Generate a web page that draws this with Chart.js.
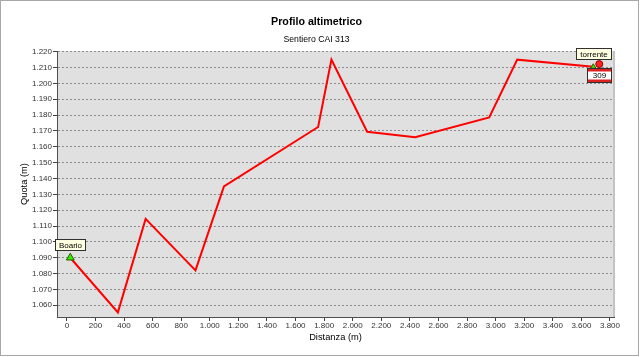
<!DOCTYPE html>
<html>
<head>
<meta charset="utf-8">
<title>Profilo altimetrico</title>
<script src="https://cdn.jsdelivr.net/npm/chart.js@4.4.0/dist/chart.umd.min.js"></script>
<style>
  html, body { margin: 0; padding: 0; background: #fff; }
  canvas { display: block; }
</style>
</head>
<body>
<canvas id="profile_chart" width="640" height="357"></canvas>
<script>
// Track profile (distance in m, altitude in m)
const distanza = [24, 357, 551, 900, 1099, 1758, 1851, 2101, 2437, 2955, 3151, 3683];
const quota = [1090, 1055.5, 1114.5, 1082, 1135, 1172.5, 1215, 1169.5, 1166, 1178.5, 1215, 1210.5];

// Axis ticks and ranges
const x_ticks = [0, 200, 400, 600, 800, 1000, 1200, 1400, 1600, 1800, 2000,
                 2200, 2400, 2600, 2800, 3000, 3200, 3400, 3600, 3800];
const y_ticks = [1060, 1070, 1080, 1090, 1100, 1110, 1120, 1130, 1140, 1150,
                 1160, 1170, 1180, 1190, 1200, 1210, 1220];
const x_range = [-69, 3828];
const y_range = [1052.6, 1220.4];

// Waypoints (start / end of the track) and point of interest
const waypoint_names = ["Boario", "torrente"];
const waypoint_dist = [24, 3683];
const waypoint_quota = [1090, 1210.5];
const poi_dist = [3725];
const poi_quota = [1212.2];
const sign_text = "309";

const FONT = "'Liberation Sans', Arial, sans-serif";

// 1220 -> "1.220"
function formatNumber(v) {
  return String(Math.round(v)).replace(/\B(?=(\d{3})+(?!\d))/g, ".");
}

const toPoints = (xs, ys) => xs.map((x, i) => ({ x: x, y: ys[i] }));

// Background, chart frame and plot area
const background_plugin = {
  id: "background",
  beforeDraw(chart) {
    const { ctx, chartArea: a } = chart;
    ctx.save();
    ctx.fillStyle = "#ffffff";
    ctx.fillRect(0, 0, chart.width, chart.height);
    ctx.fillStyle = "#e0e0e0";
    ctx.fillRect(a.left, a.top, a.right - a.left, a.bottom - a.top);
    ctx.strokeStyle = "#a8a8a8";
    ctx.lineWidth = 1;
    ctx.strokeRect(0.5, 0.5, chart.width - 2, chart.height - 2);
    ctx.restore();
  },
  afterDraw(chart) {
    const { ctx, chartArea: a } = chart;
    ctx.save();
    ctx.strokeStyle = "#c4c4c4";
    ctx.lineWidth = 2;
    ctx.beginPath();
    ctx.moveTo(a.right, a.top);
    ctx.lineTo(a.right, a.bottom);
    ctx.stroke();
    ctx.restore();
  }
};

// Waypoint labels and trail sign
const labels_plugin = {
  id: "waypointLabels",
  afterDatasetsDraw(chart) {
    const { ctx, scales: { x, y } } = chart;
    ctx.save();
    ctx.font = "8px " + FONT;
    ctx.textAlign = "center";
    ctx.textBaseline = "middle";
    ctx.lineWidth = 1;

    waypoint_names.forEach((name, i) => {
      const px = x.getPixelForValue(waypoint_dist[i]);
      const py = y.getPixelForValue(waypoint_quota[i]);
      const w = Math.round(ctx.measureText(name).width) + 7;
      const h = 11;
      const bx = Math.round(px - w / 2) + 0.5;
      const by = Math.round(py - 8 - h) + 0.5;
      ctx.fillStyle = "#ffffe1";
      ctx.fillRect(bx, by, w, h);
      ctx.strokeStyle = "#303030";
      ctx.strokeRect(bx, by, w, h);
      ctx.fillStyle = "#000";
      ctx.fillText(name, bx + w / 2, by + h / 2 + 0.5);
    });

    // red-white-red sign next to the last waypoint
    const last = waypoint_names.length - 1;
    const sx = Math.round(x.getPixelForValue(waypoint_dist[last]) - 6) + 0.5;
    const sy = Math.round(y.getPixelForValue(waypoint_quota[last]) + 1.5) + 0.5;
    const sw = 24, sh = 14;
    ctx.fillStyle = "#ffffff";
    ctx.fillRect(sx, sy, sw, sh);
    ctx.fillStyle = "#e02020";
    ctx.fillRect(sx, sy, sw, 3);
    ctx.fillRect(sx, sy + sh - 3, sw, 3);
    ctx.strokeStyle = "#303030";
    ctx.strokeRect(sx, sy, sw, sh);
    ctx.fillStyle = "#000";
    ctx.fillText(sign_text, sx + sw / 2, sy + sh / 2 + 0.5);
    ctx.restore();
  }
};

const ctx = document.getElementById("profile_chart").getContext("2d");

new Chart(ctx, {
  type: "scatter",
  data: {
    datasets: [
      {
        label: "Inizio",
        data: toPoints(waypoint_dist.slice(0, 1), waypoint_quota.slice(0, 1)),
        pointStyle: "triangle",
        pointRadius: 4.5,
        backgroundColor: "#33ee00",
        borderColor: "#2a5a00",
        borderWidth: 1
      },
      {
        label: "Fine",
        data: toPoints(waypoint_dist.slice(1), waypoint_quota.slice(1)),
        pointStyle: "triangle",
        pointRadius: 3,
        backgroundColor: "#33ee00",
        borderColor: "#2a5a00",
        borderWidth: 1
      },
      {
        label: "Punto",
        data: toPoints(poi_dist, poi_quota),
        pointStyle: "circle",
        pointRadius: 3.5,
        backgroundColor: "#ff2020",
        borderColor: "#900000",
        borderWidth: 1
      },
      {
        label: "Profilo",
        data: toPoints(distanza, quota),
        showLine: true,
        tension: 0,
        pointRadius: 0,
        borderColor: "#ff0000",
        borderWidth: 2,
        fill: false
      }
    ]
  },
  options: {
    responsive: false,
    animation: false,
    devicePixelRatio: 1,
    layout: { padding: { left: 0, right: 7, top: 0, bottom: 0 } },
    plugins: {
      legend: { display: false },
      tooltip: { enabled: false },
      title: {
        display: true,
        text: "Profilo altimetrico",
        color: "#000",
        font: { family: FONT, size: 10.7, weight: "bold" },
        padding: { top: 15.3, bottom: 3 }
      },
      subtitle: {
        display: true,
        text: "Sentiero CAI 313",
        color: "#000",
        font: { family: FONT, size: 8.7 },
        padding: { top: 3, bottom: 6.5 }
      }
    },
    scales: {
      x: {
        type: "linear",
        position: "bottom",
        min: x_range[0],
        max: x_range[1],
        afterBuildTicks: (scale) => { scale.ticks = x_ticks.map(v => ({ value: v })); },
        afterFit: (scale) => { scale.height = 40; },
        ticks: {
          color: "#333",
          font: { family: FONT, size: 8 },
          padding: 0,
          maxRotation: 0,
          autoSkip: false,
          callback: (v) => formatNumber(v)
        },
        grid: {
          drawOnChartArea: false,
          drawTicks: true,
          tickLength: 4,
          tickColor: "#404040"
        },
        border: { display: true, color: "#505050", width: 1 },
        title: {
          display: true,
          text: "Distanza (m)",
          color: "#000",
          font: { family: FONT, size: 9.3 },
          padding: { top: 0, bottom: 14.4 }
        }
      },
      y: {
        type: "linear",
        position: "left",
        min: y_range[0],
        max: y_range[1],
        afterBuildTicks: (scale) => { scale.ticks = y_ticks.map(v => ({ value: v })); },
        afterFit: (scale) => { scale.width = 57; },
        ticks: {
          color: "#333",
          font: { family: FONT, size: 8 },
          padding: 1,
          autoSkip: false,
          callback: (v) => formatNumber(v)
        },
        grid: {
          color: "#8c8c8c",
          lineWidth: 1,
          drawTicks: true,
          tickLength: 4,
          tickColor: "#404040",
          tickBorderDash: []
        },
        border: { display: true, color: "#505050", width: 1, dash: [2, 2] },
        title: {
          display: true,
          text: "Quota (m)",
          color: "#000",
          font: { family: FONT, size: 9.3 },
          padding: { top: 19, bottom: 0 }
        }
      },
      // empty right margin so that the titles stay centred like the original
      y_spacer: {
        type: "linear",
        position: "right",
        display: true,
        ticks: { display: false },
        grid: { display: false, drawTicks: false },
        border: { display: false },
        afterFit: (scale) => { scale.width = 19; }
      }
    }
  },
  plugins: [background_plugin, labels_plugin]
});
</script>
</body>
</html>
